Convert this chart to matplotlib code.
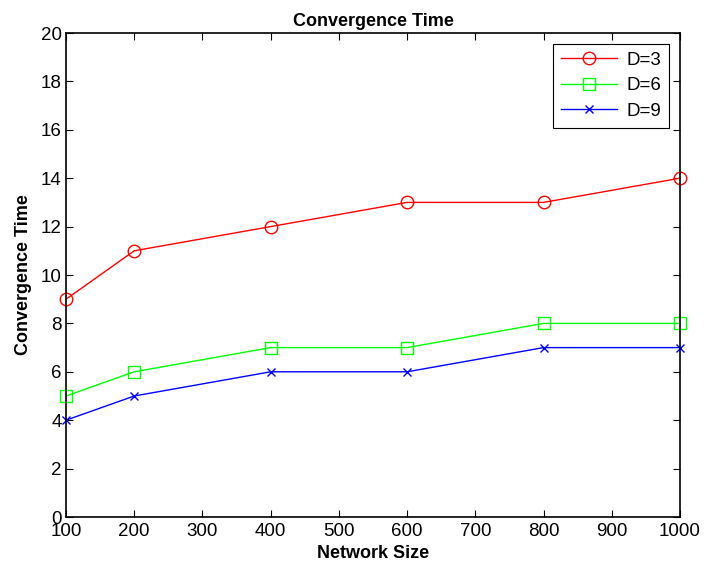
import matplotlib
matplotlib.use("Agg")
import matplotlib.pyplot as plt

network_size = [100, 200, 400, 600, 800, 1000]
d3 = [9, 11, 12, 13, 13, 14]
d6 = [5, 6, 7, 7, 8, 8]
d9 = [4, 5, 6, 6, 7, 7]
x_ticks = [100, 200, 300, 400, 500, 600, 700, 800, 900, 1000]
y_ticks = [0, 2, 4, 6, 8, 10, 12, 14, 16, 18, 20]

plt.rcParams['font.family'] = ['Liberation Sans', 'DejaVu Sans']

fig = plt.figure(figsize=(7.04, 5.72), dpi=100)
ax = fig.add_axes([66/704, 55/572, 614/704, 484/572])

ax.plot(network_size, d3, color='#ff0000', marker='o', markersize=9, markerfacecolor='none',
        markeredgecolor='#ff0000', linewidth=1, label='D=3', clip_on=False)
ax.plot(network_size, d6, color='#00ff00', marker='s', markersize=9, markerfacecolor='none',
        markeredgecolor='#00ff00', linewidth=1, label='D=6', clip_on=False)
ax.plot(network_size, d9, color='#0000ff', marker='x', markersize=6, linewidth=1, label='D=9',
        clip_on=False)

ax.set_xlim(100, 1000)
ax.set_ylim(0, 20)
ax.set_xticks(x_ticks)
ax.set_yticks(y_ticks)
ax.tick_params(direction='in', length=5, width=0.8, labelsize=13.5, top=True, right=True)
ax.tick_params(axis='x', pad=4)
ax.tick_params(axis='y', pad=3)
for s in ax.spines.values():
    s.set_linewidth(1.2)

ax.set_title('Convergence Time', fontsize=13, fontweight='bold', pad=5)
ax.set_xlabel('Network Size', fontsize=13, fontweight='bold', labelpad=4)
ax.set_ylabel('Convergence Time', fontsize=13, fontweight='bold', labelpad=6)

leg = ax.legend(loc='upper right', fontsize=13.5, fancybox=False, framealpha=1,
                edgecolor='black', borderaxespad=0.6, handlelength=3.0, labelspacing=0.45,
                borderpad=0.4, handletextpad=0.5)
leg.get_frame().set_linewidth(0.8)

fig.savefig('out.png', dpi=100)
